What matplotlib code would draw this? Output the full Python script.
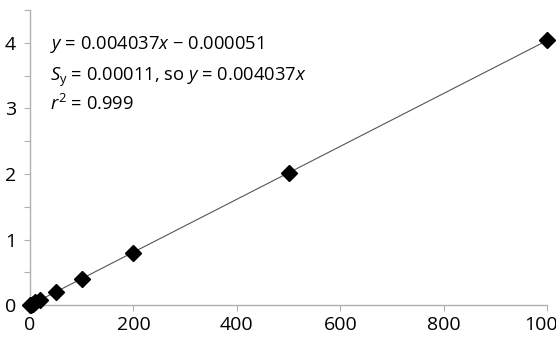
import matplotlib.pyplot as plt
import numpy as np

# calibration data
conc = [0, 2, 5, 10, 20, 50, 100, 200, 500, 1000]
signal = [0.0, 0.008, 0.02, 0.04, 0.08, 0.2, 0.4, 0.8, 2.02, 4.04]
slope = 0.004037
intercept = -0.000051
x_ticks = [0, 200, 400, 600, 800, 1000]
y_ticks = [0, 1, 2, 3, 4]

plt.rcParams['font.family'] = 'Open Sans'
plt.rcParams['mathtext.fontset'] = 'custom'
plt.rcParams['mathtext.rm'] = 'Open Sans'
plt.rcParams['mathtext.it'] = 'Open Sans:italic'

fig = plt.figure(figsize=(5.56, 3.39), dpi=100)
ax = fig.add_axes([0.054, 0.100, 0.930, 0.870])

fit_x = np.array([0, max(conc)])
ax.plot(fit_x, slope * fit_x + intercept, color='#555555', linewidth=0.8, zorder=2)
ax.plot(conc, signal, linestyle='none', marker='D', markersize=8.5,
        color='black', zorder=3, clip_on=False)

ax.set_xlim(0, 1000)
ax.set_ylim(0, 4.5)
ax.set_xticks(x_ticks)
ax.set_yticks(y_ticks)
ax.set_yticks([0.5, 1.5, 2.5, 3.5, 4.5], minor=True)

for side in ['top', 'right']:
    ax.spines[side].set_visible(False)
for side in ['left', 'bottom']:
    ax.spines[side].set_color('#b0b0b0')
    ax.spines[side].set_linewidth(1.0)
ax.tick_params(axis='both', which='both', color='#b0b0b0', length=4, width=0.8,
               labelsize=14, labelcolor='black')
ax.tick_params(axis='y', pad=6)
ax.tick_params(axis='x', pad=4)

txt_kw = dict(transform=ax.transData, fontsize=13.2, va='baseline', ha='left')
ax.text(38, 3.91, '$y$ = 0.004037$x$ \u2212 0.000051', **txt_kw)
ax.text(38, 3.42, '$S_\\mathrm{y}$ = 0.00011, so $y$ = 0.004037$x$', **txt_kw)
ax.text(38, 2.98, '$r^2$ = 0.999', **txt_kw)

fig.savefig('out.png', dpi=100)
